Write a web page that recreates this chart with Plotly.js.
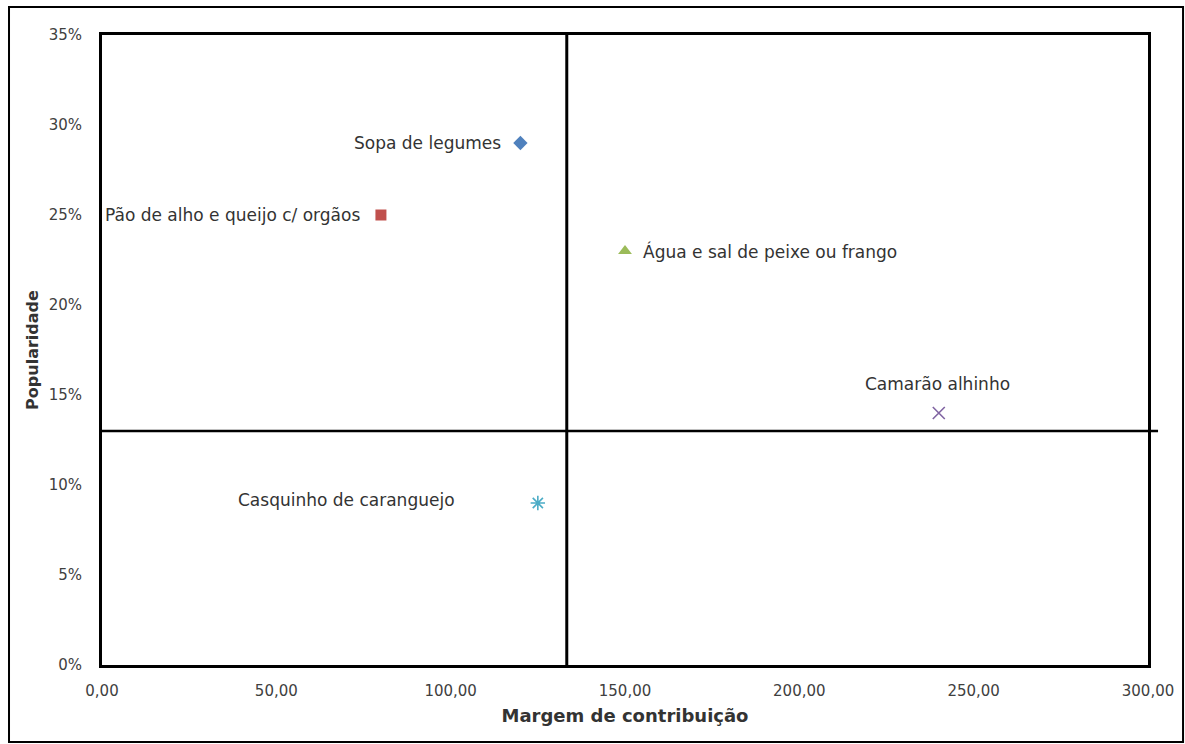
<!DOCTYPE html>
<html>
<head>
<meta charset="utf-8">
<script src="https://cdn.plot.ly/plotly-3.0.1.min.js"></script>
<style>
  html, body { margin: 0; padding: 0; background: #fff; }
  #chart { width: 1185px; height: 744px; }
</style>
</head>
<body>
<div id="chart"></div>
<script>
// Menu items: contribution margin (R$) vs popularity (share of sales)
const itemNames = [
  'Sopa de legumes',
  'Pão de alho e queijo c/ orgãos',
  'Água e sal de peixe ou frango',
  'Camarão alhinho',
  'Casquinho de caranguejo'
];
const margem = [120, 80, 150, 240, 125];
const popularidade = [0.29, 0.25, 0.23, 0.14, 0.09];

// Quadrant dividing lines
const margemCorte = 133.3;
const popularidadeCorte = 0.13;

// Axis ticks
const xTickVals = [0, 50, 100, 150, 200, 250, 300];
const xTickText = ['0,00', '50,00', '100,00', '150,00', '200,00', '250,00', '300,00'];
const yTickVals = [0, 0.05, 0.10, 0.15, 0.20, 0.25, 0.30, 0.35];
const yTickText = ['0%', '5%', '10%', '15%', '20%', '25%', '30%', '35%'];

const markerStyles = [
  { symbol: 'diamond', color: '#4F81BD', size: 11, line: { width: 0 } },
  { symbol: 'square', color: '#C0504D', size: 11, line: { width: 0 } },
  { symbol: 'triangle-up', color: '#9BBB59', size: 12, line: { width: 0 } },
  { symbol: 'x-thin-open', color: '#8064A2', size: 12, line: { width: 1.6, color: '#8064A2' } },
  { symbol: 'asterisk-open', color: '#4BACC6', size: 12, line: { width: 1.6, color: '#4BACC6' } }
];

// Label placement relative to each marker
const labelPlacement = [
  { xanchor: 'right', yanchor: 'middle', xshift: -17, yshift: 0 },
  { xanchor: 'right', yanchor: 'middle', xshift: -19, yshift: 0 },
  { xanchor: 'left', yanchor: 'middle', xshift: 16, yshift: 0 },
  { xanchor: 'center', yanchor: 'middle', xshift: -1, yshift: 29 },
  { xanchor: 'right', yanchor: 'middle', xshift: -81, yshift: 3 }
];

const FAMILY = 'DejaVu Sans, sans-serif';
const txtFont = { family: FAMILY, size: 17, color: '#333333' };
const tickFont = { family: FAMILY, size: 15, color: '#404040' };

const traces = itemNames.map((name, i) => ({
  type: 'scatter',
  mode: 'markers',
  name: name,
  x: [margem[i]],
  y: [popularidade[i]],
  marker: markerStyles[i],
  cliponaxis: false,
  hoverinfo: 'skip'
}));

const annotations = itemNames.map((name, i) => Object.assign({
  x: margem[i],
  y: popularidade[i],
  xref: 'x',
  yref: 'y',
  text: name,
  showarrow: false,
  font: txtFont
}, labelPlacement[i]));

const shapes = [
  // vertical divider
  { type: 'line', xref: 'x', yref: 'paper', x0: margemCorte, x1: margemCorte, y0: 0, y1: 1,
    line: { color: '#000', width: 3 } },
  // horizontal divider, running slightly past the right edge
  { type: 'line', xref: 'paper', yref: 'paper', x0: 0, x1: 1.0096,
    y0: popularidadeCorte / 0.35, y1: popularidadeCorte / 0.35,
    line: { color: '#000', width: 2.5 } },
  // outer frame
  { type: 'rect', xref: 'paper', yref: 'paper', x0: -0.0889, x1: 1.0335, y0: -0.1222, y1: 1.0444,
    line: { color: '#000', width: 2 }, fillcolor: 'rgba(0,0,0,0)', layer: 'below' }
];

const layout = {
  width: 1185,
  height: 744,
  margin: { l: 102, r: 37, t: 35, b: 79 },
  paper_bgcolor: '#fff',
  plot_bgcolor: '#fff',
  showlegend: false,
  font: txtFont,
  xaxis: {
    range: [0, 300],
    tickvals: xTickVals,
    ticktext: xTickText,
    showgrid: false,
    zeroline: false,
    showline: true,
    mirror: true,
    linecolor: '#000',
    linewidth: 3,
    ticks: '',
    ticklabelstandoff: 10,
    tickfont: tickFont,
    title: { text: '<b>Margem de contribuição</b>', standoff: 11,
             font: { family: FAMILY, size: 18, color: '#333333' } }
  },
  yaxis: {
    range: [0, 0.35],
    tickvals: yTickVals,
    ticktext: yTickText,
    showgrid: false,
    zeroline: false,
    showline: true,
    mirror: true,
    linecolor: '#000',
    linewidth: 3,
    ticks: '',
    ticklabelstandoff: 14,
    tickfont: tickFont,
    title: { text: '<b>Popularidade</b>', standoff: 7,
             font: { family: FAMILY, size: 16, color: '#333333' } }
  },
  shapes: shapes,
  annotations: annotations
};

Plotly.newPlot('chart', traces, layout, { displayModeBar: false, staticPlot: true });
</script>
</body>
</html>
